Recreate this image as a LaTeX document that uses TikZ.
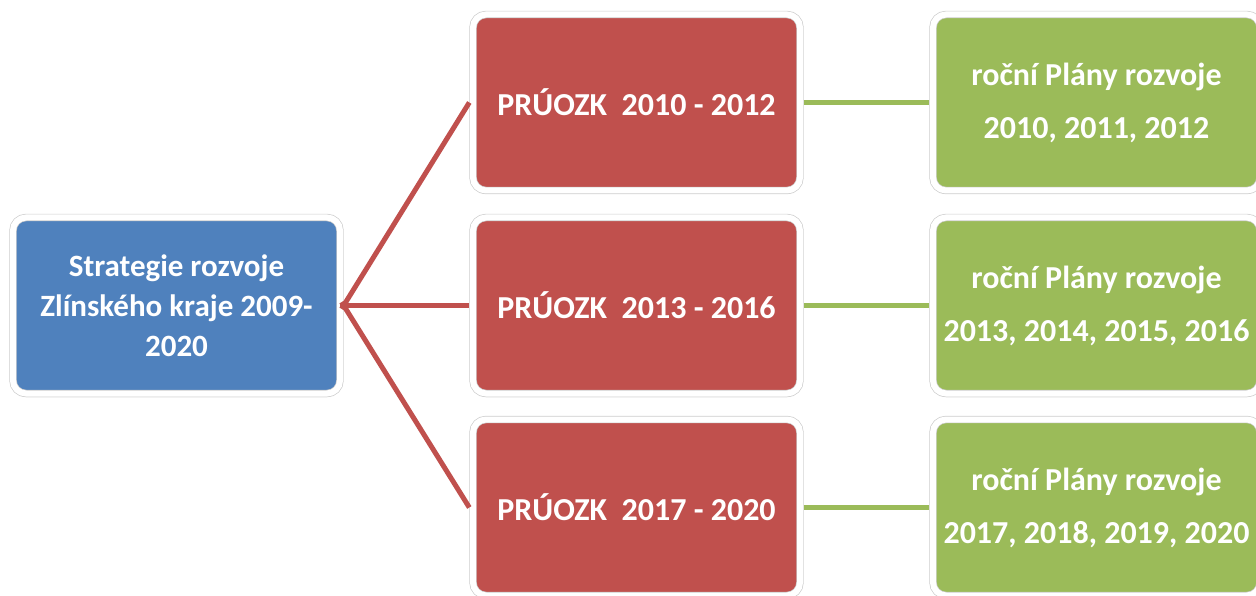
\documentclass[tikz,border=0pt]{standalone}
\usepackage{fontspec}
\setmainfont{Carlito}
\usetikzlibrary{shadows,backgrounds}
\definecolor{cblue}{HTML}{4F81BD}
\definecolor{cred}{HTML}{C0504D}
\definecolor{cgreen}{HTML}{9BBB59}
\begin{document}
\begin{tikzpicture}[x=1pt,y=-1pt,
  box/.style={rounded corners=13pt, minimum width=327pt, minimum height=176pt,
    draw=gray!40, double=white, double distance=6pt, line width=0.7pt,
    text=white, align=center, inner sep=0pt, outer sep=3.7pt,
    drop shadow={shadow xshift=0pt,shadow yshift=-3.5pt,opacity=0.35,fill=black!70}},
  bluebox/.style={box, fill=cblue, font=\bfseries\fontsize{31}{40}\selectfont},
  redbox/.style={box, fill=cred, font=\bfseries\fontsize{32}{40}\selectfont},
  greenbox/.style={box, fill=cgreen, font=\bfseries\fontsize{32}{53}\selectfont},
  redline/.style={draw=cred, line width=5pt},
  greenline/.style={draw=cgreen, line width=5pt}]
\useasboundingbox (0,0) rectangle (1256,596);
\node[bluebox] (s) at (176.5,305.5) {Strategie rozvoje\\Zlínského kraje 2009-\\2020};
\node[redbox] (r1) at (636.5,102.5) {PRÚOZK\ \ 2010 - 2012};
\node[redbox] (r2) at (636.5,305.5) {PRÚOZK\ \ 2013 - 2016};
\node[redbox] (r3) at (636.5,507.5) {PRÚOZK\ \ 2017 - 2020};
\node[greenbox] (g1) at (1096.5,102.5) {roční Plány rozvoje\\2010, 2011, 2012};
\node[greenbox] (g2) at (1096.5,305.5) {roční Plány rozvoje\\2013, 2014, 2015, 2016};
\node[greenbox] (g3) at (1096.5,507.5) {roční Plány rozvoje\\2017, 2018, 2019, 2020};
\draw[redline, shorten <=-4pt] (s.east) -- (r1.west);
\draw[redline, shorten <=-4pt] (s.east) -- (r2.west);
\draw[redline, shorten <=-4pt] (s.east) -- (r3.west);
\draw[greenline] (r1.east) -- (g1.west);
\draw[greenline] (r2.east) -- (g2.west);
\draw[greenline] (r3.east) -- (g3.west);
\end{tikzpicture}
\end{document}
